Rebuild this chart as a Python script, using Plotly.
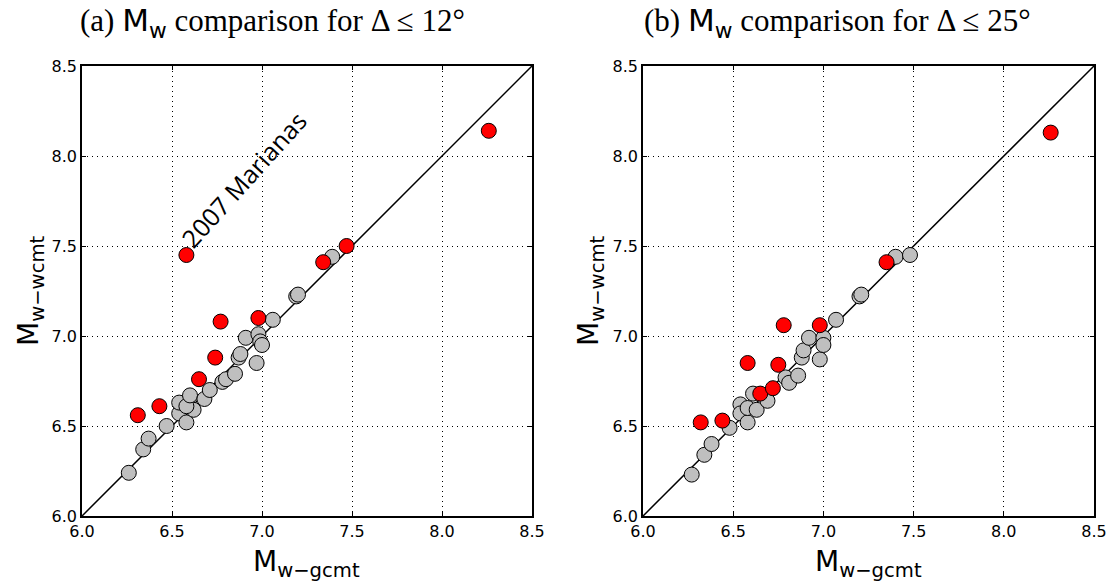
import plotly.graph_objects as go

# Panel (a): Delta <= 12 deg
a_grey_x = [6.26, 6.34, 6.37, 6.47, 6.54, 6.58, 6.54, 6.62, 6.58, 6.60, 6.68, 6.71, 6.78, 6.80, 6.85,
            6.87, 6.88, 6.91, 6.97, 6.98, 6.99, 7.00, 7.06, 7.19, 7.20, 7.39]
a_grey_y = [6.24, 6.37, 6.43, 6.50, 6.57, 6.52, 6.63, 6.59, 6.61, 6.67, 6.65, 6.70, 6.745, 6.76, 6.79,
            6.88, 6.90, 6.99, 6.85, 7.01, 6.97, 6.95, 7.09, 7.22, 7.23, 7.44]
a_red_x = [6.31, 6.43, 6.65, 6.74, 6.77, 6.98, 6.58, 7.34, 7.47, 8.26]
a_red_y = [6.56, 6.61, 6.76, 6.88, 7.08, 7.10, 7.45, 7.41, 7.50, 8.14]

# Panel (b): Delta <= 25 deg
b_grey_x = [6.27, 6.34, 6.38, 6.48, 6.54, 6.54, 6.58, 6.58, 6.61, 6.63, 6.69, 6.79, 6.81, 6.86, 6.88,
            6.89, 6.92, 6.98, 7.00, 7.00, 7.07, 7.20, 7.21, 7.40, 7.48]
b_grey_y = [6.23, 6.34, 6.40, 6.49, 6.62, 6.57, 6.52, 6.60, 6.68, 6.59, 6.64, 6.77, 6.74, 6.78, 6.88,
            6.92, 6.99, 6.87, 6.99, 6.95, 7.09, 7.22, 7.23, 7.44, 7.45]
b_red_x = [6.32, 6.44, 6.65, 6.72, 6.58, 6.75, 6.78, 6.98, 7.35, 8.26]
b_red_y = [6.52, 6.53, 6.68, 6.71, 6.85, 6.84, 7.06, 7.06, 7.41, 8.13]

one_to_one = [6.0, 8.5]
tick_vals = [6.0, 6.5, 7.0, 7.5, 8.0, 8.5]
tick_text = ["6.0", "6.5", "7.0", "7.5", "8.0", "8.5"]

titles = ["(a) <span style='font-family:DejaVu Sans'>M<sub>w</sub></span> comparison for Δ ≤ 12°",
          "(b) <span style='font-family:DejaVu Sans'>M<sub>w</sub></span> comparison for Δ ≤ 25°"]

W, H = 1115, 581
fig = go.Figure()

panels = [
    ("x", "y", a_grey_x, a_grey_y, a_red_x, a_red_y),
    ("x2", "y2", b_grey_x, b_grey_y, b_red_x, b_red_y),
]
for xa, ya, gx, gy, rx, ry in panels:
    fig.add_trace(go.Scatter(x=one_to_one, y=one_to_one, mode="lines",
                             line=dict(color="black", width=1.5), xaxis=xa, yaxis=ya,
                             showlegend=False, hoverinfo="skip"))
    fig.add_trace(go.Scatter(x=gx, y=gy, mode="markers", xaxis=xa, yaxis=ya, showlegend=False,
                             marker=dict(size=15, color="#bfbfbf", line=dict(color="black", width=1))))
    fig.add_trace(go.Scatter(x=rx, y=ry, mode="markers", xaxis=xa, yaxis=ya, showlegend=False,
                             marker=dict(size=15, color="#ff0000", line=dict(color="black", width=1))))

ax_common = dict(range=[6.0, 8.5], tickvals=tick_vals, ticktext=tick_text, automargin=False,
                 showgrid=True, gridcolor="black", griddash="1px,4px", gridwidth=1,
                 showline=True, linecolor="black", linewidth=1.5, mirror="ticks",
                 ticks="inside", ticklen=4, tickcolor="black", zeroline=False,
                 tickfont=dict(family="DejaVu Sans", size=16, color="black"))


def px_x(p):
    return p / W


def px_y(p):
    return (H - p) / H


dom_a = [px_x(82), px_x(532)]
dom_b = [px_x(643), px_x(1094)]
dom_y = [px_y(516), px_y(66)]

fig.update_layout(
    width=W, height=H,
    margin=dict(l=0, r=0, t=0, b=0, autoexpand=False),
    plot_bgcolor="white", paper_bgcolor="white",
    xaxis=dict(domain=dom_a, anchor="y", **ax_common),
    yaxis=dict(domain=dom_y, anchor="x", **ax_common),
    xaxis2=dict(domain=dom_b, anchor="y2", **ax_common),
    yaxis2=dict(domain=dom_y, anchor="x2", **ax_common),
)

anns = []
for tc, lc, t in [(272, 307, titles[0]), (837, 868, titles[1])]:
    anns.append(dict(x=px_x(tc), y=px_y(23), xref="paper", yref="paper", text=t, showarrow=False,
                     font=dict(family="Liberation Serif", size=31, color="black"),
                     xanchor="center", yanchor="middle"))
    anns.append(dict(x=px_x(lc), y=px_y(563), xref="paper", yref="paper",
                     text="M<sub>w−gcmt</sub>", showarrow=False,
                     font=dict(family="DejaVu Sans", size=28, color="black"),
                     xanchor="center", yanchor="middle"))
for xl in [30, 590]:
    anns.append(dict(x=px_x(xl), y=(dom_y[0] + dom_y[1]) / 2, xref="paper", yref="paper",
                     text="M<sub>w−wcmt</sub>", showarrow=False, textangle=-90,
                     font=dict(family="DejaVu Sans", size=28, color="black"),
                     xanchor="center", yanchor="middle"))
anns.append(dict(x=6.9, y=7.87, xref="x", yref="y", text="2007 Marianas", showarrow=False,
                 textangle=-48, font=dict(family="Open Sans", size=25, color="black"),
                 xanchor="center", yanchor="middle"))
fig.update_layout(annotations=anns)

fig.write_html("out.html", config={"displayModeBar": False},
               post_script="document.body.style.margin='0';document.body.style.overflow='hidden';")
